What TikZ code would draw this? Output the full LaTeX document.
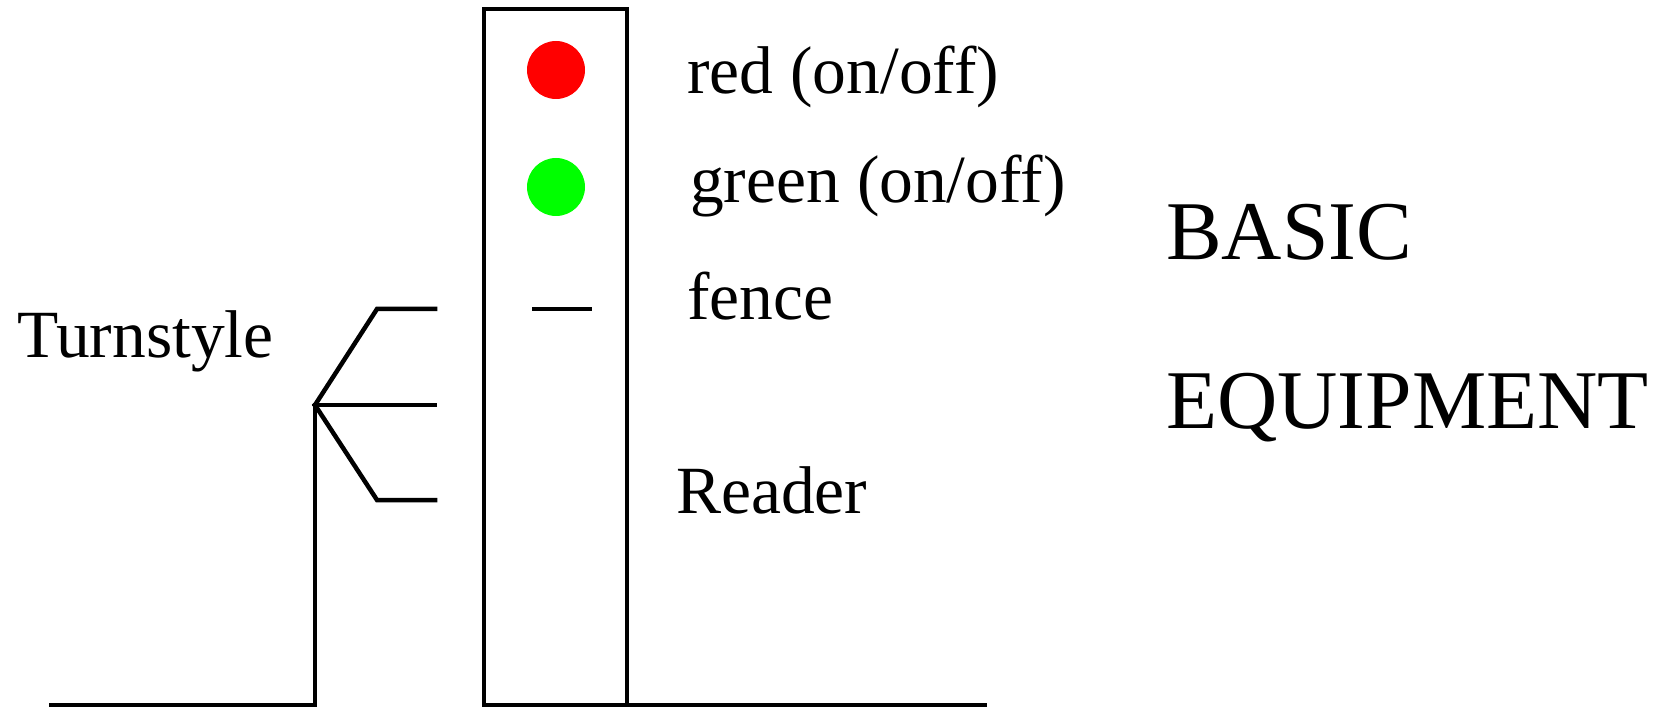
\documentclass[tikz,border=0pt]{standalone}
\usepackage{fontspec}
\setmainfont{Liberation Serif}
\begin{document}
\begin{tikzpicture}[x=1pt,y=-1pt,
  wire/.style={line width=4.5pt, line cap=rect, line join=miter},
  lbl/.style={anchor=base west, inner sep=0pt, font=\fontsize{67.5}{67.5}\selectfont},
  big/.style={anchor=base west, inner sep=0pt, font=\fontsize{83.5}{83.5}\selectfont},
  lamp/.style={circle, inner sep=0pt, minimum size=58pt}]
\useasboundingbox (0,0) rectangle (1675,708);

% ground line and pivot post
\coordinate (g0) at (51,705);
\coordinate (piv) at (315,405);
\draw[wire] (g0) -- (315,705) -- (piv);
\draw[wire] (484,705) -- (985,705);

% turnstile arms
\draw[wire] (piv) -- (377,309) -- (435,309);
\draw[wire] (piv) -- (435,405);
\draw[wire] (piv) -- (377,500) -- (435,500);

% equipment box
\draw[wire] (484,705) -- (484,9) -- (627,9) -- (627,705);

% lamps and fence indicator
\node[lamp, fill={rgb,255:red,255;green,0;blue,0}] (red) at (556,70) {};
\node[lamp, fill={rgb,255:red,0;green,255;blue,0}] (green) at (556,187) {};
\draw[wire, line cap=butt] (532,309) -- (592,309);

% labels
\node[lbl] (tredl) at (687,94) {red (on/off)};
\node[lbl] (tgreen) at (690,203) {green (on/off)};
\node[lbl] (tfence) at (687,320) {fence};
\node[lbl] (treader) at (676,513) {Reader};
\node[lbl] (tturn) at (17,358) {Turnstyle};
\node[big] (tbasic) at (1166,260) {BASIC};
\node[big] (tequip) at (1166,428) {EQUIPMENT};
\end{tikzpicture}
\end{document}
